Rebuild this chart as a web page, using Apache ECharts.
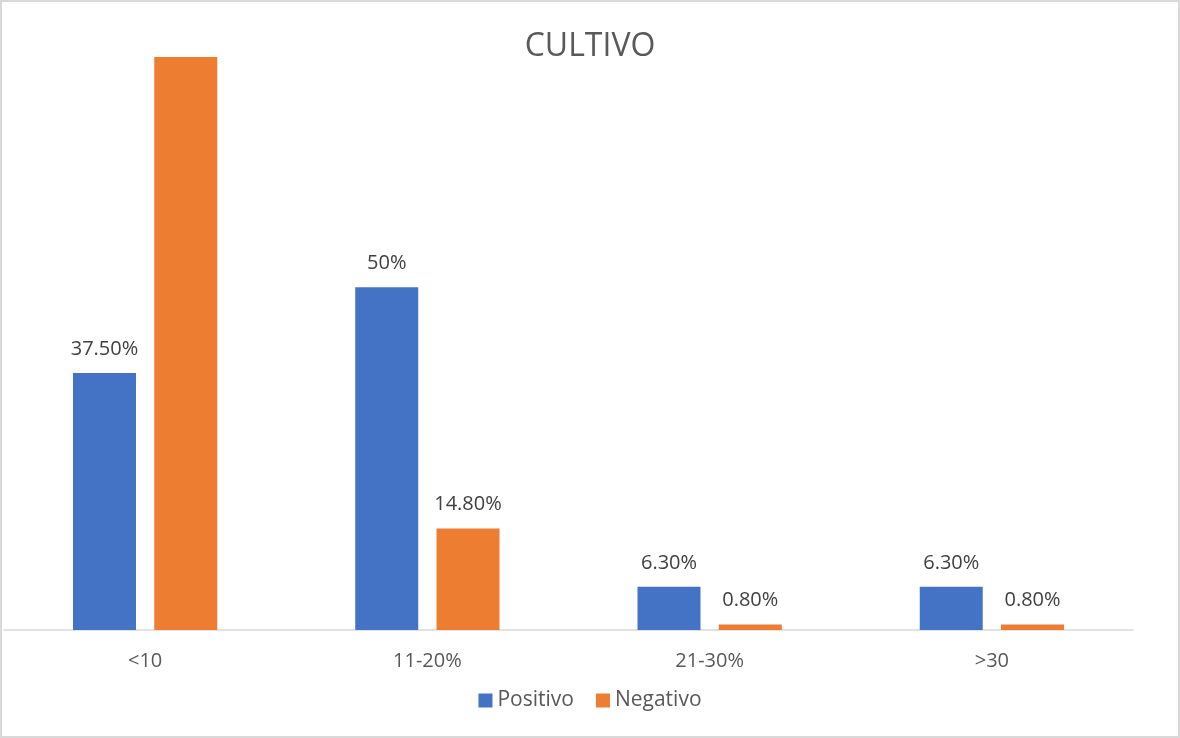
<!DOCTYPE html>
<html>
<head>
<meta charset="utf-8">
<script src="https://cdn.jsdelivr.net/npm/echarts@6/dist/echarts.min.js"></script>
<style>
html,body{margin:0;padding:0;background:#fff;}
#wrap{position:relative;width:1180px;height:738px;}
#chart{position:absolute;left:0;top:0;width:1180px;height:738px;}
#border{position:absolute;left:0;top:0;width:1180px;height:738px;box-sizing:border-box;border:2px solid #d9d9d9;pointer-events:none;}
</style>
</head>
<body>
<div id="wrap"><div id="chart"></div><div id="border"></div></div>
<script>
const categories = ['<10', '11-20%', '21-30%', '>30'];
const positivo = [37.5, 50, 6.3, 6.3];
const negativo = [83.6, 14.8, 0.8, 0.8];
const positivoLabels = ['37.50%', '50%', '6.30%', '6.30%'];
const negativoLabels = ['', '14.80%', '0.80%', '0.80%'];

const FONT = '"Open Sans", "Noto Sans", sans-serif';
const chart = echarts.init(document.getElementById('chart'));

function items(vals, labels) {
  return vals.map((v, i) => ({ value: v, label: { show: labels[i] !== '' } }));
}

chart.setOption({
  animation: false,
  title: {
    text: 'CULTIVO',
    left: 'center',
    top: 26,
    textStyle: { fontFamily: FONT, fontSize: 32, fontWeight: 'normal', color: '#595959' }
  },
  legend: {
    data: ['Positivo', 'Negativo'],
    bottom: 22,
    left: 'center',
    itemWidth: 14,
    itemHeight: 14,
    itemGap: 22,
    icon: 'rect',
    textStyle: { fontFamily: FONT, fontSize: 21, color: '#595959' }
  },
  grid: { left: 4, right: 47, top: 13, bottom: 108, containLabel: false },
  xAxis: {
    type: 'category',
    data: categories,
    axisLine: { lineStyle: { color: '#d9d9d9', width: 1.5 } },
    axisTick: { show: false },
    axisLabel: { fontFamily: FONT, fontSize: 20, color: '#595959', margin: 21 }
  },
  yAxis: {
    type: 'value',
    min: 0,
    max: 90,
    show: false,
    splitLine: { show: false }
  },
  series: [
    {
      name: 'Positivo',
      type: 'bar',
      data: items(positivo, positivoLabels),
      barWidth: 63,
      barGap: '29%',
      itemStyle: { color: '#4472C4' },
      label: {
        position: 'top',
        distance: 14,
        fontFamily: FONT,
        fontSize: 20,
        color: '#404040',
        formatter: p => positivoLabels[p.dataIndex]
      }
    },
    {
      name: 'Negativo',
      type: 'bar',
      data: items(negativo, negativoLabels),
      barWidth: 63,
      barGap: '29%',
      itemStyle: { color: '#ED7D31' },
      label: {
        position: 'top',
        distance: 14,
        fontFamily: FONT,
        fontSize: 20,
        color: '#404040',
        formatter: p => negativoLabels[p.dataIndex]
      }
    }
  ]
});
</script>
</body>
</html>
